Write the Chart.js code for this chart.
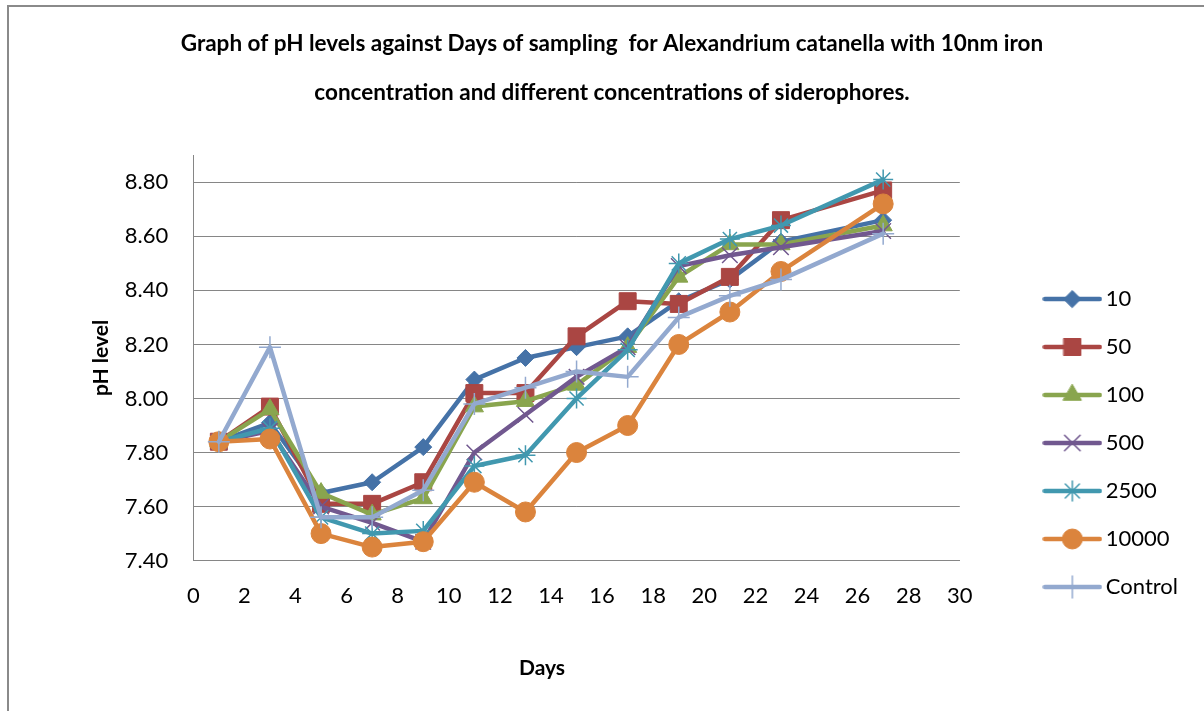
<!DOCTYPE html>
<html><head><meta charset="utf-8">
<script src="https://cdn.jsdelivr.net/npm/chart.js@4.4.0/dist/chart.umd.min.js"></script>
<style>
html,body{margin:0;padding:0;background:#fff;overflow:hidden;width:1204px;height:711px}
#frame{position:absolute;left:7px;top:5px;width:1400px;height:900px;border-left:2px solid #8a8a8a;border-top:2px solid #8a8a8a;}
#wrap{position:absolute;left:0;top:0;width:1204px;height:711px}
canvas{display:block}
</style></head><body>
<div id="frame"></div>
<div id="wrap"><canvas id="c" width="1204" height="711" style="width:1204px;height:711px"></canvas></div>
<script>
// ---- data ----
const days = [1, 3, 5, 7, 9, 11, 13, 15, 17, 19, 21, 23, 27];
const seriesNames = ['10', '50', '100', '500', '2500', '10000', 'Control'];
const s10      = [7.84, 7.91, 7.65, 7.69, 7.82, 8.07, 8.15, 8.19, 8.23, 8.36, 8.44, 8.58, 8.66];
const s50      = [7.84, 7.97, 7.61, 7.61, 7.69, 8.02, 8.02, 8.23, 8.36, 8.35, 8.45, 8.66, 8.77];
const s100     = [7.84, 7.96, 7.65, 7.57, 7.63, 7.97, 7.99, 8.05, 8.19, 8.45, 8.57, 8.57, 8.64];
const s500     = [7.84, 7.88, 7.60, 7.54, 7.47, 7.80, 7.94, 8.08, 8.19, 8.49, 8.53, 8.56, 8.62];
const s2500    = [7.84, 7.89, 7.56, 7.50, 7.51, 7.75, 7.79, 8.00, 8.18, 8.50, 8.59, 8.64, 8.81];
const s10000   = [7.84, 7.85, 7.50, 7.45, 7.47, 7.69, 7.58, 7.80, 7.90, 8.20, 8.32, 8.47, 8.72];
const sControl = [7.84, 8.19, 7.56, 7.56, 7.66, 7.98, 8.04, 8.10, 8.08, 8.30, 8.38, 8.44, 8.61];
const yTickValues = [7.4, 7.6, 7.8, 8.0, 8.2, 8.4, 8.6, 8.8];
const titleLines = ['Graph of pH levels against Days of sampling  for Alexandrium catanella with 10nm iron',
                    'concentration and different concentrations of siderophores.'];
const xTitle = 'Days';
const yTitle = 'pH level';

// ---- styles ----
const allSeries = [s10, s50, s100, s500, s2500, s10000, sControl];
const colors = ['#4572A7', '#AA4643', '#89A54E', '#71588F', '#4198AF', '#DB843D', '#93A9CF'];
const markers = ['rectRot', 'rect', 'triangle', 'crossRot', 'star', 'circle', 'cross'];
const radii = [8.5, 12, 10.5, 11, 10, 10, 11];
const openMarker = [false, false, false, true, true, false, true];
const FONT = 'Lato';

function drawMarker(ctx, style, x, y, r, color, open) {
  ctx.save();
  ctx.fillStyle = color; ctx.strokeStyle = color;
  ctx.lineWidth = open ? 1.5 : 1;
  ctx.beginPath();
  const s = Math.SQRT1_2 * r;
  switch (style) {
    case 'rectRot': ctx.moveTo(x - r, y); ctx.lineTo(x, y - r); ctx.lineTo(x + r, y); ctx.lineTo(x, y + r); ctx.closePath(); break;
    case 'rect': ctx.rect(x - s, y - s, 2 * s, 2 * s); break;
    case 'triangle': {
      let a = 0; ctx.moveTo(x + Math.sin(a) * r, y - Math.cos(a) * r);
      a += 2 * Math.PI / 3; ctx.lineTo(x + Math.sin(a) * r, y - Math.cos(a) * r);
      a += 2 * Math.PI / 3; ctx.lineTo(x + Math.sin(a) * r, y - Math.cos(a) * r);
      ctx.closePath(); break; }
    case 'crossRot': ctx.moveTo(x - s, y - s); ctx.lineTo(x + s, y + s); ctx.moveTo(x + s, y - s); ctx.lineTo(x - s, y + s); break;
    case 'star': ctx.moveTo(x - s, y - s); ctx.lineTo(x + s, y + s); ctx.moveTo(x + s, y - s); ctx.lineTo(x - s, y + s);
                 ctx.moveTo(x, y - r); ctx.lineTo(x, y + r); ctx.moveTo(x - r, y); ctx.lineTo(x + r, y); break;
    case 'circle': ctx.arc(x, y, r, 0, Math.PI * 2); break;
    case 'cross': ctx.moveTo(x, y - r); ctx.lineTo(x, y + r); ctx.moveTo(x - r, y); ctx.lineTo(x + r, y); break;
  }
  if (!open) ctx.fill();
  ctx.stroke();
  ctx.restore();
}

// legend icons: line + marker
const legendIcons = colors.map((c, i) => {
  const cv = document.createElement('canvas');
  cv.width = 60; cv.height = 26;
  const g = cv.getContext('2d');
  g.strokeStyle = c; g.lineWidth = 4.5; g.lineCap = 'round';
  g.beginPath(); g.moveTo(2.5, 13); g.lineTo(57.5, 13); g.stroke();
  drawMarker(g, markers[i], 30, 13, radii[i], c, openMarker[i]);
  return cv;
});

const datasets = seriesNames.map((name, i) => ({
  label: name,
  data: days.map((d, k) => ({x: d, y: allSeries[i][k]})),
  borderColor: colors[i],
  backgroundColor: colors[i],
  borderWidth: 4.5,
  borderJoinStyle: 'round',
  borderCapStyle: 'round',
  tension: 0,
  pointStyle: markers[i],
  pointRadius: radii[i],
  pointHoverRadius: radii[i],
  pointBorderWidth: openMarker[i] ? 1.5 : 1,
  pointBorderColor: colors[i],
  pointBackgroundColor: colors[i],
  order: seriesNames.length - i
}));

const legendShift = {
  id: 'legendShift',
  afterLayout(chart) {
    const l = chart.legend;
    if (l) { l.top += 138; l.bottom += 138; }
  }
};
const xTitlePlugin = {
  id: 'xTitlePlugin',
  afterDraw(chart) {
    const ctx = chart.ctx;
    ctx.save();
    ctx.font = 'bold 21px ' + FONT;
    ctx.fillStyle = '#000';
    ctx.textAlign = 'center';
    ctx.textBaseline = 'middle';
    ctx.fillText(xTitle, 542, 668);
    ctx.restore();
  }
};

Chart.defaults.font.family = FONT;
Chart.defaults.color = '#000';

new Chart(document.getElementById('c'), {
  type: 'line',
  data: { datasets },
  plugins: [legendShift, xTitlePlugin],
  options: {
    responsive: false,
    devicePixelRatio: 1,
    animation: false,
    layout: { padding: { left: 36, right: 16, top: 0, bottom: 101 } },
    plugins: {
      tooltip: { enabled: false },
      title: {
        display: true,
        text: titleLines,
        color: '#000',
        font: { family: FONT, size: 22.5, weight: 'bold', lineHeight: 49 / 22.5 },
        padding: { top: 19.5, bottom: 37.8 }
      },
      legend: {
        display: true,
        position: 'right',
        align: 'center',
        labels: {
          usePointStyle: true,
          pointStyleWidth: 45,
          boxHeight: 22,
          padding: 26,
          color: '#000',
          font: { family: FONT, size: 22 },
          generateLabels: chart => chart.data.datasets.map((ds, i) => ({
            text: ds.label,
            pointStyle: legendIcons[i],
            fillStyle: ds.borderColor,
            strokeStyle: ds.borderColor,
            lineWidth: 0,
            hidden: false,
            datasetIndex: i,
            fontColor: '#000'
          }))
        }
      }
    },
    scales: {
      x: {
        type: 'linear',
        position: 'bottom',
        min: 0, max: 30,
        grid: { display: false, drawTicks: false },
        border: { display: true, color: '#868686', width: 1 },
        ticks: { stepSize: 2, padding: 22, font: { size: 22 }, color: '#000', maxRotation: 0 },
        afterFit(s) { s.height = 49.4; }
      },
      y: {
        type: 'linear',
        position: 'left',
        min: 7.4, max: 8.9,
        grid: { color: '#868686', lineWidth: 1, drawTicks: false },
        border: { display: true, color: '#868686', width: 1 },
        afterBuildTicks(s) { s.ticks = yTickValues.map(v => ({value: v})); },
        ticks: { padding: 25, font: { size: 22 }, color: '#000', callback: v => Number(v).toFixed(2) },
        title: { display: true, text: yTitle, color: '#000', font: { family: FONT, size: 21, weight: 'bold' }, padding: { top: 52.4, bottom: 0 } },
        afterFit(s) { s.width = 157.3; }
      },
      yPad: {
        type: 'linear',
        position: 'right',
        display: true,
        grid: { display: false, drawTicks: false },
        border: { display: false },
        ticks: { display: false },
        afterFit(s) { s.width = 64; }
      }
    }
  }
});
</script>
</body></html>
